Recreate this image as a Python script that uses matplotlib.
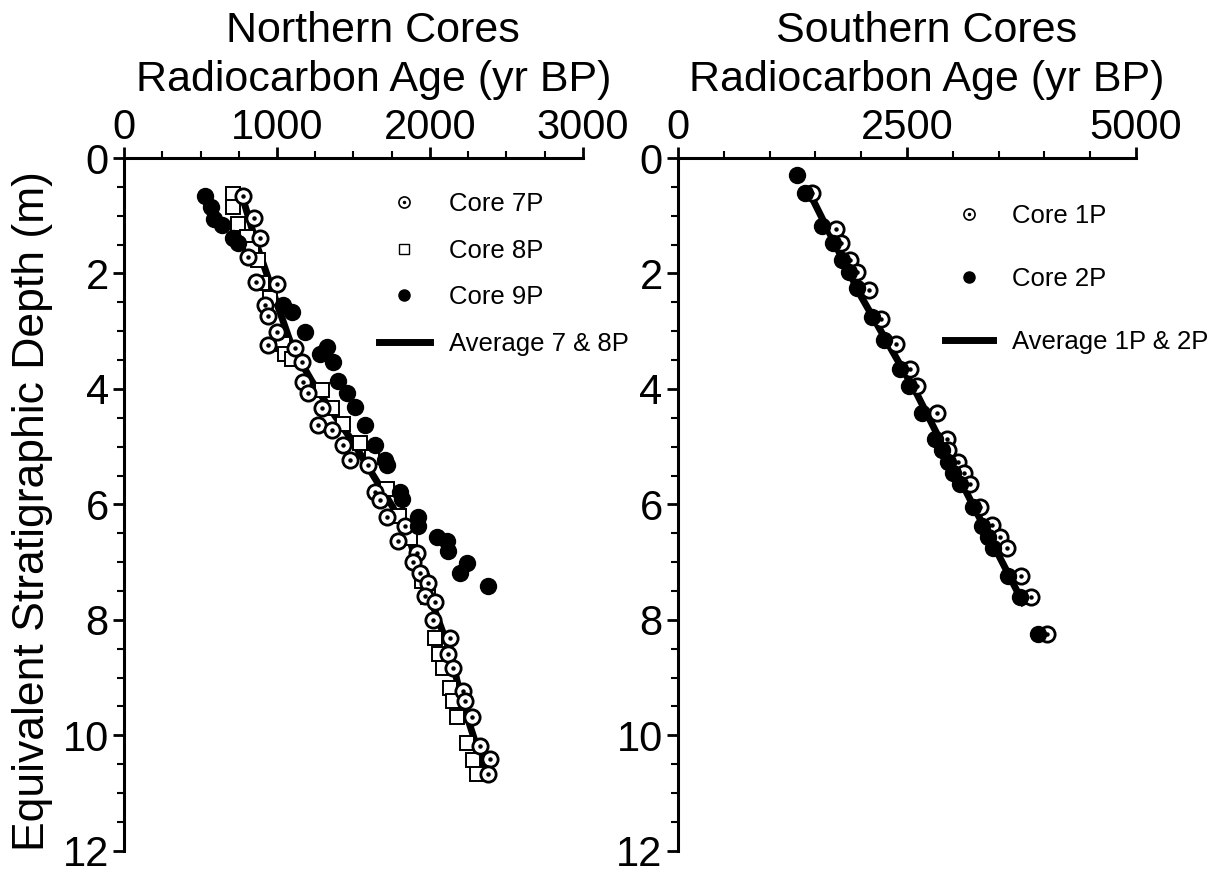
import matplotlib.pyplot as plt
from matplotlib.lines import Line2D
from matplotlib.ticker import MultipleLocator

plt.rcParams['font.family'] = ['Liberation Sans', 'DejaVu Sans']

# ---- Northern cores (age yr BP, depth m) ----
c7_age = [778, 850, 889, 810, 863, 1000, 922, 941, 1000, 941, 1118, 1163, 1170, 1203,
          1294, 1268, 1359, 1431, 1477, 1595, 1641, 1673, 1719, 1837, 1791, 1915, 1889,
          1935, 1987, 1967, 2033, 2020, 2131, 2118, 2150, 2216, 2229, 2275, 2327, 2392, 2379]
c7_depth = [0.65, 1.04, 1.38, 1.72, 2.15, 2.18, 2.54, 2.73, 3.02, 3.24, 3.29, 3.53, 3.88, 4.07,
            4.33, 4.62, 4.72, 4.97, 5.23, 5.32, 5.78, 5.93, 6.22, 6.37, 6.63, 6.85, 7.00,
            7.19, 7.36, 7.58, 7.70, 8.01, 8.31, 8.59, 8.84, 9.23, 9.40, 9.69, 10.19, 10.41, 10.68]

c8_age = [712, 712, 745, 804, 837, 876, 902, 954, 1039, 1052, 1098, 1294, 1359, 1431, 1542,
          1621, 1719, 1797, 1869, 1948, 1987, 2033, 2059, 2085, 2131, 2150, 2176, 2242, 2281, 2307]
c8_depth = [0.63, 0.85, 1.14, 1.36, 1.57, 1.77, 2.16, 2.42, 3.22, 3.39, 3.49, 4.02, 4.33, 4.60, 4.94,
            5.18, 5.74, 6.20, 6.59, 7.33, 7.60, 8.31, 8.59, 8.84, 9.18, 9.40, 9.69, 10.14, 10.43, 10.68]

c9_age = [529, 569, 588, 641, 712, 745, 1039, 1098, 1183, 1327, 1281, 1366, 1399, 1458, 1510,
          1575, 1641, 1706, 1719, 1804, 1817, 1922, 1922, 2046, 2111, 2118, 2242, 2196, 2379]
c9_depth = [0.65, 0.85, 1.06, 1.16, 1.38, 1.48, 2.54, 2.66, 3.02, 3.27, 3.39, 3.53, 3.87, 4.07, 4.31,
            4.63, 4.97, 5.23, 5.32, 5.78, 5.91, 6.22, 6.37, 6.56, 6.63, 6.81, 7.02, 7.19, 7.41]

avg78_age = [765, 876, 987, 1098, 1229, 1346, 1497, 1627, 1758, 1869, 1935, 2000, 2131, 2209, 2314, 2353]
avg78_depth = [0.60, 1.57, 2.42, 3.27, 3.87, 4.34, 4.92, 5.49, 6.05, 6.63, 7.19, 7.61, 8.55, 9.40, 10.26, 10.63]

# ---- Southern cores ----
c1_age = [1463, 1725, 1779, 1878, 1954, 2085, 2216, 2380, 2533, 2609, 2828, 2937, 2948, 3057,
          3122, 3188, 3297, 3428, 3515, 3592, 3745, 3854, 4028]
c1_depth = [0.60, 1.23, 1.48, 1.77, 1.98, 2.28, 2.78, 3.22, 3.65, 3.95, 4.41, 4.86, 5.06, 5.26,
            5.45, 5.64, 6.05, 6.35, 6.56, 6.75, 7.24, 7.60, 8.25]

c2_age = [1299, 1386, 1572, 1692, 1790, 1867, 1954, 2118, 2249, 2424, 2522, 2664, 2806, 2882,
          2948, 3002, 3079, 3221, 3319, 3384, 3439, 3603, 3734, 3930]
c2_depth = [0.29, 0.60, 1.18, 1.48, 1.77, 1.98, 2.25, 2.76, 3.15, 3.66, 3.95, 4.41, 4.86, 5.06,
            5.26, 5.45, 5.64, 6.05, 6.37, 6.56, 6.75, 7.24, 7.61, 8.25]

avg12_age = [1419, 2000, 2609, 3200, 3766]
avg12_depth = [0.55, 2.40, 4.09, 5.95, 7.70]


def style_axis(ax, xmax, xmajor, xminor, title):
    ax.set_xlim(0, xmax)
    ax.set_ylim(12, 0)
    ax.xaxis.set_major_locator(MultipleLocator(xmajor))
    ax.xaxis.set_minor_locator(MultipleLocator(xminor))
    ax.yaxis.set_major_locator(MultipleLocator(2))
    ax.yaxis.set_minor_locator(MultipleLocator(0.5))
    ax.xaxis.tick_top()
    ax.xaxis.set_label_position('top')
    for s in ['bottom', 'right']:
        ax.spines[s].set_visible(False)
    for s in ['top', 'left']:
        ax.spines[s].set_linewidth(2.2)
    ax.tick_params(which='major', direction='out', length=8, width=2, labelsize=30, pad=3)
    ax.tick_params(which='minor', direction='out', length=5, width=1.5)
    ax.tick_params(axis='x', which='both', top=True, bottom=False, pad=-1)
    ax.set_xlabel(title, fontsize=31, linespacing=1.3)
    # label sits above the tick labels, a bit right of the axes centre
    ax.xaxis.set_label_coords(0.543, 1.084)
    ax.xaxis.label.set_va('bottom')


def dotted(ax, x, y, ms=11):
    ax.plot(x, y, 'o', ms=ms, mfc='white', mec='black', mew=2.0, ls='none', zorder=3)
    ax.plot(x, y, 'o', ms=2.2, mfc='black', mec='black', ls='none', zorder=3.1)


fig = plt.figure(figsize=(12.22, 8.77), dpi=100)
ax1 = fig.add_axes([0.1015, 0.030, 0.3755, 0.7898])
ax2 = fig.add_axes([0.5548, 0.030, 0.3748, 0.7898])

# left panel
ax1.plot(avg78_age, avg78_depth, color='black', lw=5, zorder=2)
ax1.plot(c8_age, c8_depth, 's', ms=10, mfc='white', mec='black', mew=1.4, ls='none', zorder=2.5)
dotted(ax1, c7_age, c7_depth)
ax1.plot(c9_age, c9_depth, 'o', ms=11.5, color='black', ls='none', zorder=4)
style_axis(ax1, 3000, 1000, 250, 'Northern Cores\nRadiocarbon Age (yr BP)')
ax1.set_ylabel('Equivalent Stratigraphic Depth (m)', fontsize=32)
ax1.yaxis.set_label_coords(-0.155, 0.49)

h7 = (Line2D([], [], marker='o', ms=8, mfc='white', mec='black', mew=1.2, ls='none'),
      Line2D([], [], marker='o', ms=1.5, color='black', ls='none'))
h8 = Line2D([], [], marker='s', ms=7.5, mfc='white', mec='black', mew=1.0, ls='none')
h9 = Line2D([], [], marker='o', ms=8, color='black', ls='none')
ha = Line2D([], [], color='black', lw=5)
ax1.legend([h7, h8, h9, ha], ['Core 7P', 'Core 8P', 'Core 9P', 'Average 7 & 8P'],
           loc='upper left', bbox_to_anchor=(0.555, 0.951), frameon=False, fontsize=18.5,
           handlelength=2.0, handletextpad=0.75, labelspacing=0.88, borderpad=0, borderaxespad=0)

# right panel
ax2.plot(avg12_age, avg12_depth, color='black', lw=5, zorder=2)
dotted(ax2, c1_age, c1_depth)
ax2.plot(c2_age, c2_depth, 'o', ms=11.5, color='black', ls='none', zorder=4)
style_axis(ax2, 5000, 2500, 500, 'Southern Cores\nRadiocarbon Age (yr BP)')

h1 = (Line2D([], [], marker='o', ms=8, mfc='white', mec='black', mew=1.2, ls='none'),
      Line2D([], [], marker='o', ms=1.5, color='black', ls='none'))
h2 = Line2D([], [], marker='o', ms=8, color='black', ls='none')
hb = Line2D([], [], color='black', lw=5)
ax2.legend([h1, h2, hb], ['Core 1P', 'Core 2P', 'Average 1P & 2P'],
           loc='upper left', bbox_to_anchor=(0.583, 0.933), frameon=False, fontsize=18.5,
           handlelength=1.85, handletextpad=0.75, labelspacing=1.5, borderpad=0, borderaxespad=0)

fig.savefig('out.png', dpi=100)
